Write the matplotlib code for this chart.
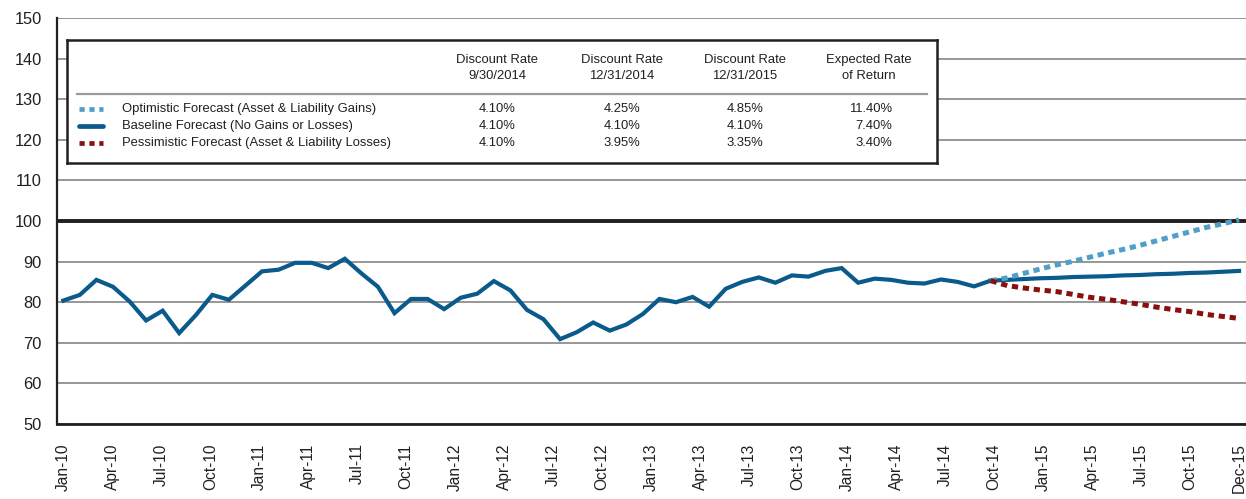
import numpy as np
import matplotlib
matplotlib.use('Agg')
import matplotlib.pyplot as plt

plt.rcParams['font.family'] = ['Liberation Sans', 'DejaVu Sans']

# ── data ────────────────────────────────────────────────────────────────────
# funded status history, Jan-10 .. Sep/Oct-14 (one point per month)
history = [80.4, 81.8, 85.5, 83.8, 80.2, 75.5, 77.9, 72.4, 76.8, 81.8,
           80.6, 84.1, 87.6, 88.0, 89.7, 89.7, 88.4, 90.7, 87.1, 83.8,
           77.3, 80.8, 80.8, 78.3, 81.1, 82.1, 85.2, 82.9, 78.1, 75.8,
           70.9, 72.6, 75.0, 73.0, 74.5, 77.1, 80.8, 80.0, 81.3, 78.9,
           83.3, 85.0, 86.1, 84.8, 86.6, 86.3, 87.7, 88.4, 84.8, 85.8,
           85.5, 84.8, 84.6, 85.6, 85.0, 83.9, 85.3]

# forecasts start at the last history point and run to Dec-15
optimistic = [85.3, 86.0, 87.1, 88.2, 89.2, 90.1, 91.1, 92.1, 93.0, 94.0,
              95.1, 96.2, 97.3, 98.4, 99.3, 100.3]
baseline = [85.3, 85.5, 85.7, 85.9, 86.0, 86.2, 86.3, 86.4, 86.6, 86.7,
            86.9, 87.0, 87.2, 87.3, 87.5, 87.7]
pessimistic = [85.3, 84.1, 83.5, 83.0, 82.6, 81.9, 81.2, 80.7, 80.1, 79.5,
               78.8, 78.2, 77.7, 77.0, 76.5, 76.0]

tick_labels = ['Jan-10', 'Apr-10', 'Jul-10', 'Oct-10',
               'Jan-11', 'Apr-11', 'Jul-11', 'Oct-11',
               'Jan-12', 'Apr-12', 'Jul-12', 'Oct-12',
               'Jan-13', 'Apr-13', 'Jul-13', 'Oct-13',
               'Jan-14', 'Apr-14', 'Jul-14', 'Oct-14',
               'Jan-15', 'Apr-15', 'Jul-15', 'Oct-15', 'Dec-15']

scenario_names = ['Optimistic Forecast (Asset & Liability Gains)',
                  'Baseline Forecast (No Gains or Losses)',
                  'Pessimistic Forecast (Asset & Liability Losses)']
col_headers = ['Discount Rate\n9/30/2014', 'Discount Rate\n12/31/2014',
               'Discount Rate\n12/31/2015', 'Expected Rate\nof Return']
rate_table = [['4.10%', '4.25%', '4.85%', '11.40%'],
              ['4.10%', '4.10%', '4.10%', '7.40%'],
              ['4.10%', '3.95%', '3.35%', '3.40%']]

# ── style ───────────────────────────────────────────────────────────────────
DARK_BLUE = '#0a5a8c'
LIGHT_BLUE = '#4fa0c6'
DARK_RED = '#8a0f0f'
INK = '#231f20'
GRID = '#8f8f8f'
DOTS = (0, (1.25, 0.95))

W, H = 1246, 499
fig = plt.figure(figsize=(W / 100, H / 100), dpi=100, facecolor='white')
ax = fig.add_axes([57 / W, (H - 424) / H, (W - 57) / W, 406 / H])

x_hist = np.arange(len(history))
x_fc = np.arange(len(history) - 1, len(history) - 1 + len(baseline))
n_total = x_fc[-1]

ax.set_ylim(50, 150)
ax.set_xlim(-0.38, n_total + 0.42)
ax.set_yticks(np.arange(50, 151, 10))
ax.yaxis.grid(True, color=GRID, lw=1.3, zorder=0)
ax.axhline(100, color=INK, lw=2.8, zorder=2)

ax.plot(x_hist, history, color=DARK_BLUE, lw=3.0, solid_joinstyle='miter', zorder=3)
ax.plot(x_fc, baseline, color=DARK_BLUE, lw=3.0, zorder=3)
ax.plot(x_fc, optimistic, color=LIGHT_BLUE, lw=3.6, ls=DOTS, dash_capstyle='butt', zorder=4)
ax.plot(x_fc, pessimistic, color=DARK_RED, lw=3.6, ls=DOTS, dash_capstyle='butt', zorder=4)

ax.set_xticks(np.linspace(0, n_total, len(tick_labels)))
ax.set_xticklabels(tick_labels, rotation=90, fontsize=11.2, color=INK)
ax.tick_params(axis='y', labelsize=11.8, colors=INK, length=0, pad=11)
ax.tick_params(axis='x', length=0, pad=14)
for lbl in ax.get_yticklabels():
    lbl.set_color(INK)

for side in ['top', 'right']:
    ax.spines[side].set_visible(False)
ax.spines['left'].set_color(INK)
ax.spines['left'].set_linewidth(1.6)
ax.spines['bottom'].set_color(INK)
ax.spines['bottom'].set_linewidth(2.0)
ax.spines['bottom'].set_zorder(5)

# ── table legend box ────────────────────────────────────────────────────────
bx0, by0, bx1, by1 = 67, 40, 937, 163
tab = fig.add_axes([bx0 / W, (H - by1) / H, (bx1 - bx0) / W, (by1 - by0) / H])
tab.set_xlim(0, bx1 - bx0)
tab.set_ylim(by1 - by0, 0)
tab.set_xticks([])
tab.set_yticks([])
tab.set_facecolor('white')
for s in tab.spines.values():
    s.set_color(INK)
    s.set_linewidth(1.8)

fs = 9.4
col_centers = [430, 555, 678, 802]
for cx, head in zip(col_centers, col_headers):
    tab.text(cx, 28, head, ha='center', va='center', fontsize=fs,
             color=INK, linespacing=1.35)
tab.plot([10, 860], [54, 54], color='#9a9a9a', lw=1.6)

row_y = [69, 86, 103]
key_styles = [dict(color=LIGHT_BLUE, ls=(0, (1.1, 1.0)), lw=3.4, dash_capstyle='butt'),
              dict(color=DARK_BLUE, ls='-', lw=3.4, solid_capstyle='round'),
              dict(color=DARK_RED, ls=(0, (1.1, 1.0)), lw=3.4, dash_capstyle='butt')]
for ry, name, style, vals in zip(row_y, scenario_names, key_styles, rate_table):
    tab.plot([12, 36], [ry, ry], **style)
    tab.text(55, ry, name, ha='left', va='center', fontsize=fs, color=INK)
    for cx, v in zip(col_centers[:3], vals[:3]):
        tab.text(cx, ry, v, ha='center', va='center', fontsize=fs, color=INK)
    tab.text(825, ry, vals[3], ha='right', va='center', fontsize=fs, color=INK)

fig.savefig('out.png', dpi=100, facecolor='white')
plt.close(fig)
